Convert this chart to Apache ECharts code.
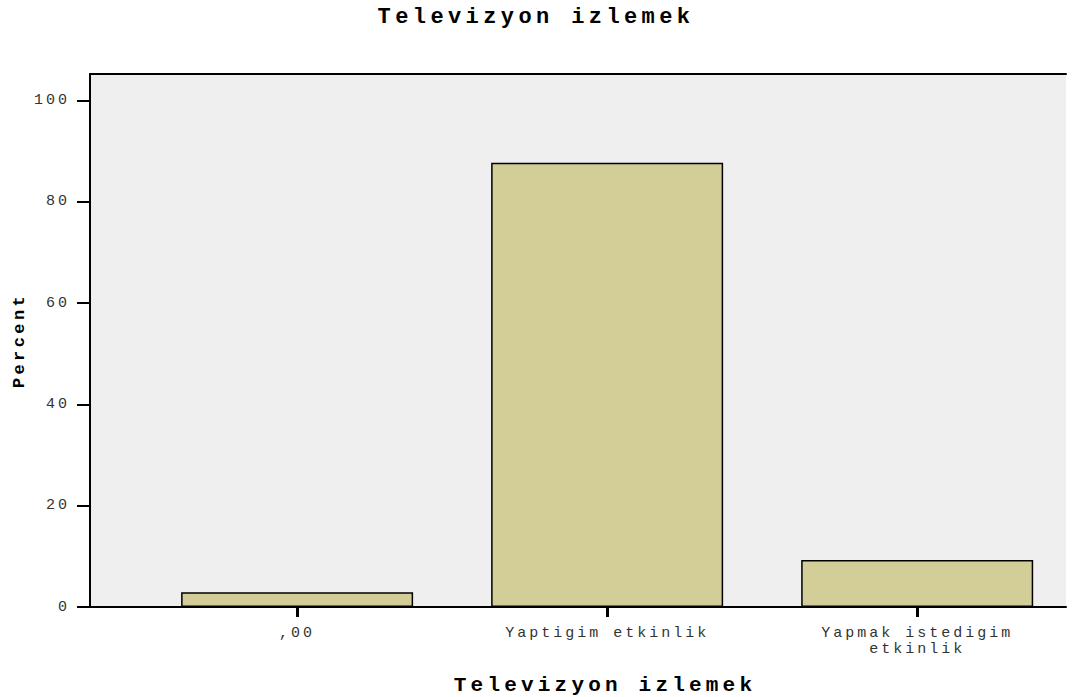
<!DOCTYPE html>
<html>
<head>
<meta charset="UTF-8">
<title>Televizyon izlemek</title>
<script src="https://cdn.jsdelivr.net/npm/echarts@6/dist/echarts.min.js"></script>
<style>
	html, body { margin: 0; padding: 0; background: #fff; }
	#chart { width: 1072px; height: 697px; }
	/* the original uses a widely spaced courier face */
	#chart text { letter-spacing: 0.2em; font-family: "Liberation Mono", "Courier New", monospace !important; }
</style>
</head>
<body>
<div id="chart"></div>
<script>
	// data
	var categories = [',00', 'Yaptigim etkinlik', 'Yapmak istedigim\netkinlik'];
	var percents = [2.9, 87.7, 9.3];
	var yTicks = [0, 20, 40, 60, 80, 100];

	var font = 'Liberation Mono, Courier New, monospace';
	var xPos = categories.map(function (c, i) { return i; });
	var barData = percents.map(function (v, i) { return [i, v]; });

	var chart = echarts.init(document.getElementById('chart'), null, { renderer: 'svg' });
	chart.setOption({
		animation: false,
		backgroundColor: '#fff',
		title: {
			text: 'Televizyon izlemek',
			left: 'center', top: 1,
			textStyle: { fontFamily: font, fontSize: 22, fontWeight: 'bold', color: '#000' }
		},
		grid: { left: 90, right: 6, top: 74, bottom: 90, outerBoundsMode: 'none', containLabel: false,
			backgroundColor: '#efefef', show: true, borderWidth: 0 },
		xAxis: [{
			type: 'value', min: -0.668, max: 2.48,
			name: 'Televizyon izlemek', nameLocation: 'middle', nameGap: 68,
			nameTextStyle: { fontFamily: font, fontSize: 21, fontWeight: 'bold', color: '#000', padding: [0, 0, 0, 54] },
			splitLine: { show: false },
			axisLine: { show: true, onZero: false, lineStyle: { color: '#000', width: 2 } },
			axisTick: { show: true, customValues: xPos, length: 10, lineStyle: { color: '#000', width: 3 } },
			axisLabel: {
				customValues: xPos, margin: 18, lineHeight: 16,
				fontFamily: font, fontSize: 15, color: '#333',
				formatter: function (v) { return categories[Math.round(v)]; }
			}
		}, {
			type: 'value', min: -0.668, max: 2.48, position: 'top',
			splitLine: { show: false },
			axisLine: { show: true, onZero: false, lineStyle: { color: '#000', width: 2 } },
			axisTick: { show: false }, axisLabel: { show: false }
		}],
		yAxis: {
			type: 'value', min: 0, max: 105.2,
			name: 'Percent', nameLocation: 'middle', nameGap: 62, nameRotate: 90,
			nameTextStyle: { fontFamily: font, fontSize: 17, fontWeight: 'bold', color: '#000' },
			splitLine: { show: false },
			axisLine: { show: true, onZero: false, lineStyle: { color: '#000', width: 2 } },
			axisTick: { show: true, customValues: yTicks, length: 13, lineStyle: { color: '#000', width: 2 } },
			axisLabel: { customValues: yTicks, margin: 20, fontFamily: font, fontSize: 15, color: '#333' }
		},
		series: [{
			type: 'bar',
			data: barData,
			barWidth: 232,
			itemStyle: { color: '#d3ce98', borderColor: '#000', borderWidth: 1.5 }
		}]
	});
</script>
</body>
</html>
